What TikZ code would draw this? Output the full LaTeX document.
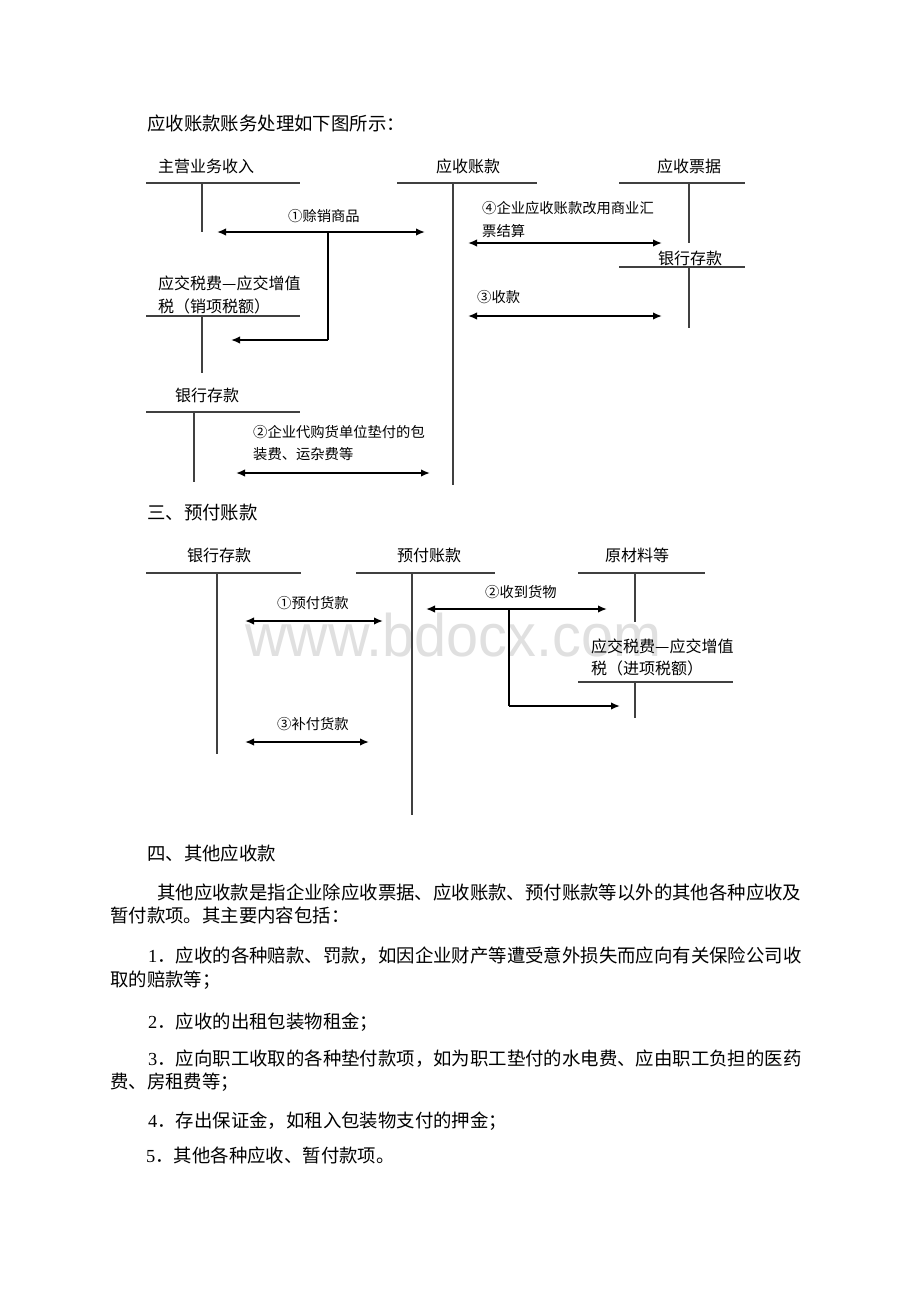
\documentclass[tikz,border=0pt]{standalone}
\usepackage{fontspec}
\setmainfont{Noto Sans CJK SC}
\newfontfamily\dg{Liberation Serif}
\newfontfamily\wmfont{Liberation Sans}
\usetikzlibrary{arrows.meta}
\newcommand{\fbody}{\fontsize{18.4pt}{18.4pt}\selectfont}
\newcommand{\flab}{\fontsize{16pt}{16pt}\selectfont}
\newcommand{\fsm}{\fontsize{14.3pt}{14.3pt}\selectfont}
\tikzset{
 body/.style={anchor=west,inner sep=0pt,text height=15.3pt,text depth=1.3pt,font=\fbody},
 lab/.style={anchor=west,inner sep=0pt,text height=13.3pt,text depth=1.1pt,font=\flab},
 sml/.style={anchor=west,inner sep=0pt,text height=11.9pt,text depth=1pt,font=\fsm},
 tline/.style={draw=black!75,line width=1.2pt},
 arr/.style={draw=black,line width=1.7pt,{Latex[length=9pt,width=7.5pt]}-{Latex[length=9pt,width=7.5pt]}},
 sarr/.style={draw=black,line width=1.7pt,-{Latex[length=9pt,width=7.5pt]}},
 brl/.style={draw=black,line width=1.7pt},
}
\begin{document}
\begin{tikzpicture}[x=1pt,y=-1pt]
\useasboundingbox (0,0) rectangle (920,1302);
\fill[white] (0,0) rectangle (920,1302);

% watermark
\node[anchor=base west,inner sep=0pt,font=\wmfont\fontsize{60pt}{60pt}\selectfont,text=black!12,xscale=0.96] (wm) at (245,656) {www.bdocx.com};

% heading
\node[body] (h1) at (147,123) {应收账款账务处理如下图所示：};

% ---------- diagram 1 ----------
\node[lab] (t1) at (158,166) {主营业务收入};
\draw[tline] (146,183) -- (300,183);
\draw[tline] (202,183) -- (202,232);

\node[lab] (t2) at (436,166) {应收账款};
\draw[tline] (397,183) -- (537,183);
\draw[tline] (453,183) -- (453,485);

\node[lab] (t3) at (657,166) {应收票据};
\draw[tline] (619,183) -- (745,183);
\draw[tline] (689,183) -- (689,243);

\node[sml] (l1) at (288,216) {①赊销商品};
\coordinate (a1s) at (217,232); \coordinate (a1e) at (425,232);
\draw[arr] (a1s) -- (a1e);
\coordinate (b1a) at (328,232); \coordinate (b1b) at (328,340); \coordinate (b1c) at (231,340);
\draw[brl] (b1a) -- (b1b);
\draw[sarr] (b1b) -- (b1c);

\node[lab] (t4a) at (158,283) {应交税费—应交增值};
\node[lab] (t4b) at (158,306) {税（销项税额）};
\draw[tline] (146,316) -- (300,316);
\draw[tline] (202,316) -- (202,373);

\node[sml] (l4a) at (482,208) {④企业应收账款改用商业汇};
\node[sml] (l4b) at (482,231) {票结算};
\coordinate (a4s) at (468,243); \coordinate (a4e) at (662,243);
\draw[arr] (a4s) -- (a4e);

\node[lab] (t5) at (658,258) {银行存款};
\draw[tline] (619,267) -- (745,267);
\draw[tline] (689,267) -- (689,328);

\node[sml] (l3) at (477,297) {③收款};
\coordinate (a3s) at (468,316); \coordinate (a3e) at (662,316);
\draw[arr] (a3s) -- (a3e);

\node[lab] (t6) at (175,395) {银行存款};
\draw[tline] (146,412) -- (300,412);
\draw[tline] (194,412) -- (194,482);

\node[sml] (l2a) at (253,432) {②企业代购货单位垫付的包};
\node[sml] (l2b) at (253,454) {装费、运杂费等};
\coordinate (a2s) at (236,473); \coordinate (a2e) at (430,473);
\draw[arr] (a2s) -- (a2e);

% section 3
\node[body] (h3) at (147,512) {三、预付账款};

% ---------- diagram 2 ----------
\node[lab] (u1) at (187,555) {银行存款};
\draw[tline] (146,573) -- (301,573);
\draw[tline] (217,573) -- (217,754);

\node[lab] (u2) at (397,555) {预付账款};
\draw[tline] (356,573) -- (495,573);
\draw[tline] (412,573) -- (412,815);

\node[lab] (u3) at (605,555) {原材料等};
\draw[tline] (578,573) -- (705,573);
\draw[tline] (635,573) -- (635,622);

\node[sml] (m1) at (277,603) {①预付货款};
\coordinate (c1s) at (245,621); \coordinate (c1e) at (383,621);
\draw[arr] (c1s) -- (c1e);

\node[sml] (m2) at (485,592) {②收到货物};
\coordinate (c2s) at (426,609); \coordinate (c2e) at (607,609);
\draw[arr] (c2s) -- (c2e);
\coordinate (d1a) at (509,609); \coordinate (d1b) at (509,706); \coordinate (d1c) at (620,706);
\draw[brl] (d1a) -- (d1b);
\draw[sarr] (d1b) -- (d1c);

\node[lab] (u4a) at (591,646) {应交税费—应交增值};
\node[lab] (u4b) at (591,668) {税（进项税额）};
\draw[tline] (578,682) -- (733,682);
\draw[tline] (635,682) -- (635,718);

\node[sml] (m3) at (277,724) {③补付货款};
\coordinate (c3s) at (245,742); \coordinate (c3e) at (369,742);
\draw[arr] (c3s) -- (c3e);

% ---------- text ----------
\node[body] (h4) at (147,853) {四、其他应收款};
\node[body] (p1a) at (157,892) {其他应收款是指企业除应收票据、应收账款、预付账款等以外的其他各种应收及};
\node[body] (p1b) at (110,915) {暂付款项。其主要内容包括：};
\node[body] (p2a) at (148,955) {{\dg 1}．应收的各种赔款、罚款，如因企业财产等遭受意外损失而应向有关保险公司收};
\node[body] (p2b) at (110,979) {取的赔款等；};
\node[body] (p3) at (148,1021) {{\dg 2}．应收的出租包装物租金；};
\node[body] (p4a) at (148,1058) {{\dg 3}．应向职工收取的各种垫付款项，如为职工垫付的水电费、应由职工负担的医药};
\node[body] (p4b) at (110,1081) {费、房租费等；};
\node[body] (p5) at (148,1120) {{\dg 4}．存出保证金，如租入包装物支付的押金；};
\node[body] (p6) at (146,1155) {{\dg 5}．其他各种应收、暂付款项。};
\end{tikzpicture}
\end{document}
